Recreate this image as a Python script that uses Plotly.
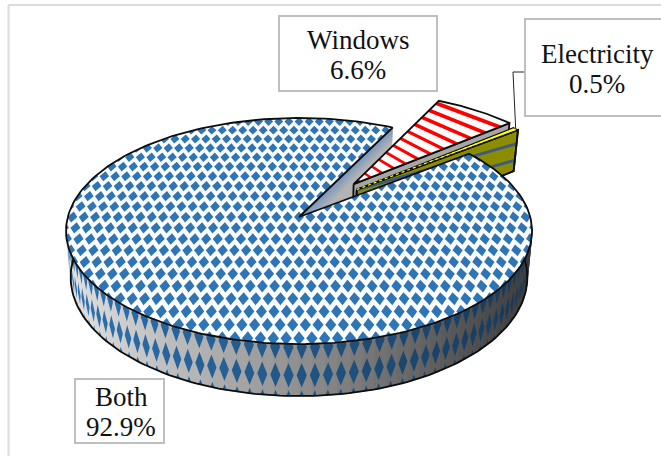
import math
import plotly.graph_objects as go

# Shares of the three categories, in percent
categories = ["Both", "Windows", "Electricity"]
shares = [92.9, 6.6, 0.5]
value_labels = ["92.9%", "6.6%", "0.5%"]

# Label boxes: left, top, right, bottom, text centre x, first-line y
label_boxes = {
    "Both": (75, 379, 164, 443, 121, 397),
    "Windows": (279, 16, 437, 91, 358, 40),
    "Electricity": (525, 19, 672, 116, 597, 54),
}

# Camera model of the disc
CX, CY = 299.0, 217.0
SCALE_X, SCALE_Y = 231.2, 111.3
PERSPECTIVE = 0.124
DEPTH = 45.6
TAPER = 0.02

# Angles are measured counter-clockwise from +X; Electricity begins here
START_DEG = 37.7
# Distance and direction each small slice is pulled out of the disc
EXPLODE = {"Windows": (0.392, 51.3), "Electricity": (0.362, 44.6)}

BLUE = (46, 117, 182)
OUTLINE = "#0c0c0c"


def project(x, y, z=0.0):
    s = 1.0 / (1.0 + PERSPECTIVE * y)
    return (CX + SCALE_X * x * s * (1 - TAPER * z), CY - SCALE_Y * y * s + DEPTH * s * z)


def clip_convex(poly, clipper):
    """Sutherland-Hodgman clip of poly against a convex polygon with positive winding."""
    out = list(poly)
    for i in range(len(clipper)):
        ax, ay = clipper[i]
        bx, by = clipper[(i + 1) % len(clipper)]
        side = lambda p: (bx - ax) * (p[1] - ay) - (by - ay) * (p[0] - ax)
        cur, out = out, []
        if not cur:
            return []
        for j in range(len(cur)):
            p, q = cur[j], cur[(j + 1) % len(cur)]
            sp, sq = side(p), side(q)
            if sp >= 0:
                out.append(p)
            if (sp >= 0) != (sq >= 0):
                t = sp / (sp - sq)
                out.append((p[0] + t * (q[0] - p[0]), p[1] + t * (q[1] - p[1])))
    return out


def polar(deg, offset=(0.0, 0.0)):
    a = math.radians(deg)
    return (math.cos(a) + offset[0], math.sin(a) + offset[1])


def arc(a0, a1, n, offset=(0.0, 0.0)):
    return [polar(a0 + (a1 - a0) * i / n, offset) for i in range(n + 1)]


def offset_for(name):
    dist, direction = EXPLODE[name]
    a = math.radians(direction)
    return (dist * math.cos(a), dist * math.sin(a))


def xy_lists(polys):
    xs, ys = [], []
    for poly in polys:
        xs += [p[0] for p in poly] + [poly[0][0], None]
        ys += [p[1] for p in poly] + [poly[0][1], None]
    return xs, ys


fig = go.Figure()


def fill(polys, color, line_color=None, width=0.0):
    xs, ys = xy_lists(polys)
    fig.add_trace(go.Scatter(
        x=xs, y=ys, mode="lines", fill="toself", fillcolor=color,
        line=dict(color=line_color or color, width=width),
        hoverinfo="skip", showlegend=False))


def stroke(points, color=OUTLINE, width=1.8, dash=None):
    fig.add_trace(go.Scatter(
        x=[p[0] for p in points], y=[p[1] for p in points], mode="lines",
        line=dict(color=color, width=width, dash=dash),
        hoverinfo="skip", showlegend=False))


def stripes(slope, spacing, thickness, phase, x0, x1):
    """Parallel bands in page space, `spacing` apart vertically."""
    bands = []
    c = phase + 10 * spacing
    for _ in range(40):
        ya, yb = c + slope * x0, c + slope * x1
        bands.append([(x0, ya), (x1, yb), (x1, yb + thickness), (x0, ya + thickness)])
        c += spacing
    return bands


# Slice angles follow from the shares
span = {n: v / 100 * 360 for n, v in zip(categories, shares)}
el0, el1 = START_DEG, START_DEG + span["Electricity"]
wi0, wi1 = el1, el1 + span["Windows"]
ma0, ma1 = wi1, wi1 + span["Both"]
wi_off = offset_for("Windows")
el_off = offset_for("Electricity")

# Cut face of the large slice, shaded from blue-grey to grey
p_top = polar(ma0)
N_CUT = 14
for i in range(N_CUT):
    t0, t1 = i / N_CUT, (i + 1) / N_CUT
    mix = min(1.0, (t0 + 0.01) / 0.35)
    col = tuple(int(a + (b - a) * mix) for a, b in zip((118, 150, 190), (178, 178, 178)))
    quad = []
    for (pt, z) in [((0, 0), t0), (p_top, t0), (p_top, t1), ((0, 0), t1)]:
        quad.append(project(pt[0], pt[1], z))
    fill([quad], "rgb(%d,%d,%d)" % col, width=0.6)

# Windows slice: cut face, then a top face with fanning red bands
wa = polar(wi0, wi_off)
wi_apex = wi_off
wall = [project(*wi_apex), project(*wa), project(wa[0], wa[1], 1), project(wi_apex[0], wi_apex[1], 1)]
fill([wall], "#a6a6a6", OUTLINE, 1.8)
wi_top = [project(*wi_apex)] + [project(*p) for p in arc(wi0, wi1, 24, wi_off)]
fill([wi_top], "#fdfdfd")
winding = list(reversed(wi_top))
apex_px, edge_px = project(*wi_apex), project(*polar(wi1, wi_off))
N_RED = 12
red_bands = []
for i in range(N_RED):
    u = (i + 0.55) / N_RED
    sx = apex_px[0] + (edge_px[0] - apex_px[0]) * u - 3
    sy = apex_px[1] + (edge_px[1] - apex_px[1]) * u - 2
    slope = 0.72 - 0.36 * u
    half = 1.4 + 0.7 * u
    band = [(sx, sy - half), (sx + 200, sy - half + 200 * slope),
            (sx + 200, sy + half + 200 * slope), (sx, sy + half)]
    piece = clip_convex(band, winding)
    if piece:
        red_bands.append(piece)
fill(red_bands, "#ff0000")
stroke(wi_top + [wi_top[0]])

# Electricity slice: olive cut face with dark bands, thin yellow top
ea = polar(el0, el_off)
el_apex = el_off
el_wall = [project(*el_apex), project(ea[0], ea[1], 0), project(ea[0], ea[1], 1), project(el_apex[0], el_apex[1], 1)]
fill([el_wall], "#8c8c00", OUTLINE, 1.8)
dark_bands = [clip_convex(b, el_wall) for b in stripes(-0.29, 16.0, 3.0, 4.0, 340, 530)]
fill([b for b in dark_bands if b], "#3c5a84")
stroke(el_wall + [el_wall[0]])
el_top = [project(*el_apex)] + [project(*p) for p in arc(el0, el1, 4, el_off)]
fill([el_top], "#ffff00", OUTLINE, 1.2)
el_mid = polar((el0 + el1) / 2, el_off)
stroke([project(*el_apex), project(*el_mid)], "#ffff00", 1.2, "3px,3px")


# Side wall of the large slice: horizontal grey ramp with tall diamonds
def wall_point(deg, z):
    x, y = polar(deg)
    return project(x, y, z)


def shade(deg):
    px = wall_point(deg, 0.5)[0]
    return max(60.0, min(226.0, 226.0 - (px - 70.0) * 0.36))


W0, W1 = 172.0, 368.0
N_WALL = 70
for i in range(N_WALL):
    a0 = W0 + (W1 - W0) * i / N_WALL
    a1 = W0 + (W1 - W0) * (i + 1) / N_WALL
    g = int(shade((a0 + a1) / 2))
    quad = [wall_point(a0, 0), wall_point(a1, 0), wall_point(a1, 1), wall_point(a0, 1)]
    fill([quad], "rgb(%d,%d,%d)" % (g, g, g), width=0.8)

COLUMN_DEG = 2.9
DIAMOND_HALF_DEG = 1.12
ROW_T = [0.06, 0.60, 1.13]
DIAMOND_HALF_T = 0.235
binned = {}
deg = W0
while deg < W1:
    g = shade(deg)
    level = int((g - 60) / 12)
    for rt in ROW_T:
        shape = [(deg - DIAMOND_HALF_DEG, rt), (deg, rt - DIAMOND_HALF_T),
                 (deg + DIAMOND_HALF_DEG, rt), (deg, rt + DIAMOND_HALF_T)]
        shape = clip_convex(shape, [(W0 - 9, 0), (W1 + 9, 0), (W1 + 9, 1), (W0 - 9, 1)])
        if shape:
            binned.setdefault(level, []).append([wall_point(a, z) for a, z in shape])
    deg += COLUMN_DEG
for level, polys in binned.items():
    f = 0.5 + 0.5 * level * 12 / 166
    fill(polys, "rgb(%d,%d,%d)" % tuple(int(c * f) for c in BLUE))

stroke([wall_point(W0 + (W1 - W0) * i / 140, 1) for i in range(141)])
stroke([wall_point(W1, 0), wall_point(W1, 1)], width=1.0)

# Top of the large slice: disc-space diamond lattice clipped to convex sectors
main_outline = [(0.0, 0.0)] + arc(ma0, ma1, 220)
fill([[project(*p) for p in main_outline]], "#fdfdfd")

sectors = []
for k in range(3):
    a0 = ma0 + (ma1 - ma0) * k / 3
    a1 = ma0 + (ma1 - ma0) * (k + 1) / 3
    sectors.append([(0.0, 0.0)] + arc(a0, a1, 36))

STEP_X, STEP_Y = 0.049, 0.096
HALF_X, HALF_Y = 0.0215, 0.049
top_diamonds = []
for row in range(-12, 13):
    cy = row * STEP_Y
    for col in range(-22, 23):
        cx = (col + (0.5 if row % 2 else 0.0)) * STEP_X
        if math.hypot(cx, cy) < 1.08:
            shape = [(cx + HALF_X, cy), (cx, cy + HALF_Y), (cx - HALF_X, cy), (cx, cy - HALF_Y)]
            for sector in sectors:
                piece = clip_convex(shape, sector)
                if len(piece) >= 3:
                    top_diamonds.append([project(*p) for p in piece])
fill(top_diamonds, "rgb(%d,%d,%d)" % BLUE)
closed = [project(*p) for p in main_outline]
stroke(closed + [closed[0]])

# Leader from the Electricity box down to its slice
end_px = project(*polar((el0 + el1) / 2, el_off))
stroke([(524, 72), (513, 72), end_px], "#222222", 1.0)

shapes = [
    dict(type="line", x0=8.5, x1=8.5, y0=5, y1=456, line=dict(color="#dcdcdc", width=2), layer="below"),
    dict(type="line", x0=8.5, x1=661, y0=5, y1=5, line=dict(color="#dcdcdc", width=2), layer="below"),
]
annotations = []
for name, val in zip(categories, value_labels):
    l, t, r, b, tx, ty = label_boxes[name]
    shapes.append(dict(type="rect", x0=l, x1=r, y0=t, y1=b, fillcolor="white",
                       line=dict(color="#bfbfbf", width=2), layer="above"))
    for text, yy in ((name, ty), (val, ty + 30)):
        annotations.append(dict(
            x=tx, y=yy, text=text, showarrow=False, xanchor="center", yanchor="middle",
            font=dict(family="Liberation Serif", size=27, color="#111111")))

fig.update_layout(
    width=661, height=456, margin=dict(l=0, r=0, t=0, b=0),
    paper_bgcolor="white", plot_bgcolor="white", showlegend=False,
    xaxis=dict(range=[0, 661], visible=False, fixedrange=True),
    yaxis=dict(range=[456, 0], visible=False, fixedrange=True),
    shapes=shapes, annotations=annotations,
)
fig.write_html("out.html", config=dict(displayModeBar=False))
